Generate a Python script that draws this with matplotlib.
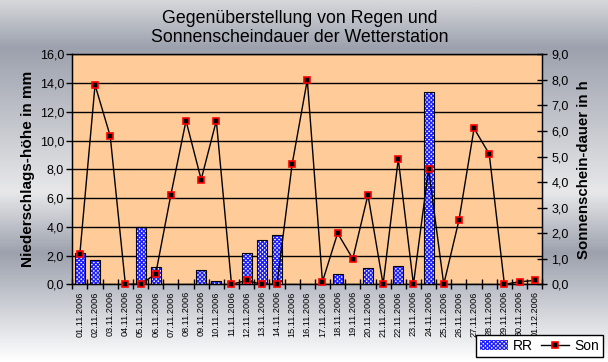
import matplotlib
matplotlib.use("Agg")
import matplotlib.pyplot as plt
import numpy as np
from matplotlib.colors import LinearSegmentedColormap
from matplotlib.patches import Patch
from matplotlib.lines import Line2D

dates = ["01.11.2006", "02.11.2006", "03.11.2006", "04.11.2006", "05.11.2006",
         "06.11.2006", "07.11.2006", "08.11.2006", "09.11.2006", "10.11.2006",
         "11.11.2006", "12.11.2006", "13.11.2006", "14.11.2006", "15.11.2006",
         "16.11.2006", "17.11.2006", "18.11.2006", "19.11.2006", "20.11.2006",
         "21.11.2006", "22.11.2006", "23.11.2006", "24.11.2006", "25.11.2006",
         "26.11.2006", "27.11.2006", "28.11.2006", "29.11.2006", "30.11.2006",
         "01.12.2006"]
rr = [2.2, 1.7, 0.0, 0.0, 4.0, 1.2, 0.0, 0.0, 1.0, 0.2,
      0.0, 2.2, 3.1, 3.4, 0.0, 0.0, 0.0, 0.7, 0.0, 1.1,
      0.0, 1.3, 0.0, 13.4, 0.0, 0.0, 0.0, 0.0, 0.0, 0.0, 0.0]
son = [1.2, 7.8, 5.8, 0.0, 0.0, 0.4, 3.5, 6.4, 4.1, 6.4,
       0.0, 0.15, 0.0, 0.0, 4.7, 8.0, 0.1, 2.0, 1.0, 3.5,
       0.0, 4.9, 0.0, 4.5, 0.0, 2.5, 6.1, 5.1, 0.0, 0.1, 0.15]
left_ticks = [0, 2, 4, 6, 8, 10, 12, 14, 16]
right_ticks = [0, 1, 2, 3, 4, 5, 6, 7, 8, 9]

W, H = 608, 362
fig = plt.figure(figsize=(W / 100, H / 100), dpi=100)

# background gradient (Excel "silver" style)
bg = fig.add_axes([0, 0, 1, 1], zorder=-10)
stops = [(0.0, "#d6d7db"), (0.13, "#9ca1ad"), (0.53, "#e8e8ea"),
         (0.70, "#9ca1ad"), (1.0, "#ffffff")]
cmap = LinearSegmentedColormap.from_list("bgc", stops)
grad = np.linspace(0, 1, 400).reshape(-1, 1)
bg.imshow(grad, aspect="auto", cmap=cmap, extent=[0, 1, 1, 0])
bg.set_xlim(0, 1)
bg.set_ylim(1, 0)
bg.axis("off")

left, right, top, bottom = 72.3 / W, 542.3 / W, 54.3 / H, 284.3 / H
ax = fig.add_axes([left, 1 - bottom, right - left, bottom - top])
ax.set_facecolor("#FFCC99")
x = np.arange(len(dates))

ax.set_axisbelow(True)
ax.yaxis.grid(True, color="black", linewidth=1.0)
ax.bar(x, rr, width=0.66, color="white", edgecolor="#2020ff", hatch="xxxxxxxx",
       linewidth=0, zorder=2)
ax.bar(x, rr, width=0.66, color="none", edgecolor="black", linewidth=0.8, zorder=3)
ax.set_xlim(-0.5, len(dates) - 0.5)
ax.set_ylim(0, 16)
ax.set_yticks(left_ticks)
ax.set_yticklabels([f"{v:.1f}".replace(".", ",") for v in left_ticks],
                   fontsize=9, family="Liberation Sans")
ax.set_xticks(x)
ax.set_xticklabels(dates, rotation=90, fontsize=6.6, family="Liberation Sans")
ax.set_xticks(np.arange(-0.5, len(dates)), minor=True)
ax.tick_params(axis="x", which="major", length=0, pad=5)
ax.tick_params(axis="x", which="minor", direction="inout", length=7, width=1)
ax.tick_params(axis="y", direction="out", length=4, width=1, pad=2)
for s in ax.spines.values():
    s.set_color("black")
    s.set_linewidth(1)
ax.set_ylabel("Niederschlags-höhe in mm", fontsize=11, fontweight="bold",
              family="Liberation Sans", labelpad=3)

ax2 = ax.twinx()
ax2.plot(x, son, color="black", linewidth=1, marker="s", markersize=5,
         markerfacecolor="black", markeredgecolor="red", markeredgewidth=1.2,
         zorder=5, clip_on=False)
ax2.set_ylim(0, 9)
ax2.set_yticks(right_ticks)
ax2.set_yticklabels([f"{v:.1f}".replace(".", ",") for v in right_ticks],
                    fontsize=9, family="Liberation Sans")
ax2.tick_params(axis="y", direction="inout", length=7, width=1, pad=3)
ax2.set_ylabel("Sonnenschein-dauer in h", fontsize=10.8, fontweight="bold",
               family="Liberation Sans", labelpad=6)

fig.text(300 / W, 1 - 28 / H, "Gegenüberstellung von Regen und\nSonnenscheindauer der Wetterstation",
         ha="center", va="center", fontsize=12.8, family="Liberation Sans",
         linespacing=1.15)

handles = [Patch(facecolor="white", edgecolor="#2020ff", hatch="xxxxxxxx", linewidth=0),
           Line2D([0], [0], color="black", linewidth=1, marker="s", markersize=5,
                  markerfacecolor="black", markeredgecolor="red", markeredgewidth=1.2)]
leg = fig.legend(handles, ["RR", "Son"], loc="lower right",
                 bbox_to_anchor=(603 / W, 1 - 357 / H), ncol=2, frameon=True,
                 fancybox=False, shadow=False,
                 prop={"family": "Liberation Sans", "size": 10},
                 borderpad=0.3, handlelength=2.0, handletextpad=0.35,
                 columnspacing=0.6, borderaxespad=0)
leg.get_frame().set_edgecolor("black")
leg.get_frame().set_linewidth(1)
leg.get_frame().set_facecolor("white")
leg.get_frame().set_alpha(1)

fig.savefig("out.png", dpi=100)
